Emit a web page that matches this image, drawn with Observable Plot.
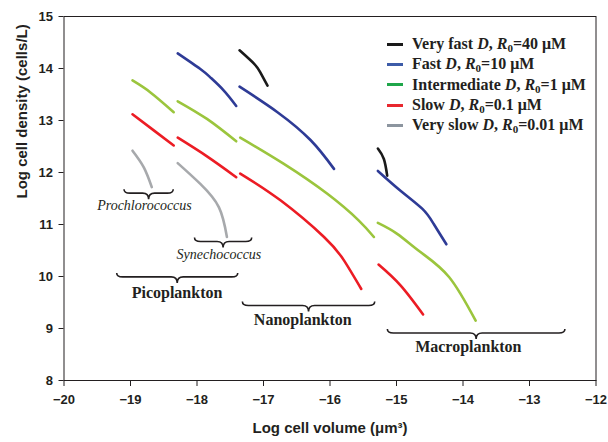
<!DOCTYPE html>
<html><head><meta charset="utf-8">
<script src="https://cdn.jsdelivr.net/npm/d3@7"></script>
<script src="https://cdn.jsdelivr.net/npm/@observablehq/plot@0.6"></script>
<style>
body{margin:0;background:#fff;}
#wrap{position:relative;width:608px;height:442px;}
.row{position:absolute;left:387px;height:20px;line-height:20px;font-family:"Liberation Serif",serif;font-weight:bold;font-size:16px;color:#231f20;white-space:nowrap;}
.row .sw{display:inline-block;width:16px;height:3px;margin-right:9px;vertical-align:middle;position:relative;top:-1px;}
.row sub{font-size:11px;vertical-align:-3px;line-height:0;}
</style></head><body><div id="wrap"></div>
<script>
// ---- data (log cell volume, log cell density) ----
const seriesNames = ["Very fast", "Fast", "Intermediate", "Slow", "Very slow"];
const legendR0 = ["40", "10", "1", "0.1", "0.01"];
const lineColors = ["#1a1a1a", "#2e3b96", "#9bc53d", "#ec1c24", "#a7a9ac"];
const legendColors = ["#1a1a1a", "#3d5ca8", "#1fa64a", "#e8282f", "#8c959f"];

const veryFast = [
  [[-17.36, 14.35], [-17.14, 14.09], [-17.05, 13.93], [-16.94, 13.67]],
  [[-15.28, 12.46], [-15.19, 12.26], [-15.14, 11.94]]
];
const fast = [
  [[-18.29, 14.29], [-17.95, 13.99], [-17.80, 13.83], [-17.60, 13.58], [-17.41, 13.28]],
  [[-17.36, 13.65], [-16.79, 13.16], [-16.29, 12.62], [-15.94, 12.07]],
  [[-15.28, 12.03], [-14.94, 11.65], [-14.61, 11.30], [-14.44, 11.01], [-14.25, 10.62]]
];
const intermediate = [
  [[-18.97, 13.77], [-18.70, 13.54], [-18.35, 13.16]],
  [[-18.29, 13.37], [-17.85, 13.03], [-17.41, 12.60]],
  [[-17.35, 12.67], [-16.70, 12.17], [-16.04, 11.59], [-15.57, 11.08], [-15.34, 10.76]],
  [[-15.28, 11.03], [-14.99, 10.82], [-14.64, 10.47], [-14.21, 9.99], [-13.81, 9.15]]
];
const slow = [
  [[-18.97, 13.12], [-18.65, 12.81], [-18.35, 12.52]],
  [[-18.29, 12.67], [-17.85, 12.31], [-17.41, 11.91]],
  [[-17.35, 11.98], [-16.74, 11.46], [-16.09, 10.76], [-15.79, 10.31], [-15.53, 9.76]],
  [[-15.27, 10.23], [-14.94, 9.83], [-14.60, 9.27]]
];
const verySlow = [
  [[-18.97, 12.42], [-18.80, 12.10], [-18.68, 11.72]],
  [[-18.29, 12.18], [-17.95, 11.78], [-17.67, 11.33], [-17.55, 10.76]]
];

const xTicks = [-20, -19, -18, -17, -16, -15, -14, -13, -12];
const yTicks = [8, 9, 10, 11, 12, 13, 14, 15];

// annotations: brace spans and labels
const annoNames = ["Prochlorococcus", "Synechococcus", "Picoplankton", "Nanoplankton", "Macroplankton"];
const annoItalic = [true, true, false, false, false];
const braceX1 = [-19.09, -18.03, -19.20, -17.31, -15.13];
const braceX2 = [-18.35, -17.17, -17.38, -15.32, -12.46];
const braceY = [11.67, 10.74, 10.06, 9.51, 8.98];
const labelX = [-18.79, -17.67, -18.30, -16.41, -13.92];
const labelY = [11.28, 10.33, 9.59, 9.06, 8.54];

// ---- build tables ----
const allSeries = [veryFast, fast, intermediate, slow, verySlow];
const rows = [];
allSeries.forEach((segs, si) => segs.forEach((seg, k) => seg.forEach(([x, y]) =>
  rows.push({series: seriesNames[si], seg: seriesNames[si] + k, x, y}))));
const braces = annoNames.map((n, i) => ({x1: braceX1[i], x2: braceX2[i], y: braceY[i]}));
const labels = annoNames.map((n, i) => ({name: n, x: labelX[i], y: labelY[i], italic: annoItalic[i]}));

function braceMark(data) {
  return (index, scales) => {
    const g = d3.create("svg:g");
    for (const b of data) {
      const x1 = scales.x(b.x1), x2 = scales.x(b.x2), y0 = scales.y(b.y), xm = (x1 + x2) / 2;
      const h = 4, t = 6, r = 6;
      const d = `M${x1},${y0} Q${x1},${y0 + h} ${x1 + r},${y0 + h} L${xm - r},${y0 + h} Q${xm},${y0 + h} ${xm},${y0 + h + t} Q${xm},${y0 + h} ${xm + r},${y0 + h} L${x2 - r},${y0 + h} Q${x2},${y0 + h} ${x2},${y0}`;
      g.append("path").attr("d", d).attr("fill", "none").attr("stroke", "#231f20").attr("stroke-width", 1.6);
    }
    return g.node();
  };
}

const fmt = d => d < 0 ? "\u2212" + Math.abs(d) : String(d);

const plot = Plot.plot({
  width: 608, height: 442,
  marginLeft: 63.5, marginRight: 12.5, marginTop: 16, marginBottom: 62,
  style: {fontFamily: "'Liberation Sans', Arial, sans-serif", fontWeight: "bold", fontSize: "13px", color: "#231f20", background: "#fff"},
  x: {domain: [-20, -12]},
  y: {domain: [8, 15]},
  color: {domain: seriesNames, range: lineColors},
  marks: [
    Plot.frame({stroke: "#231f20", strokeWidth: 1}),
    Plot.axisX({ticks: xTicks, tickFormat: fmt, tickSize: 6, tickPadding: 8, label: null, fontSize: 13}),
    Plot.axisY({ticks: yTicks, tickFormat: fmt, tickSize: 5, tickPadding: 6, label: null, fontSize: 13}),
    Plot.text(["Log cell volume (\u03bcm\u00b3)"], {frameAnchor: "bottom", dy: 52, text: d => d, fontSize: 15}),
    Plot.text(["Log cell density (cells/L)"], {frameAnchor: "left", dx: -42, rotate: -90, text: d => d, fontSize: 15}),
    Plot.line(rows, {x: "x", y: "y", z: "seg", stroke: "series", strokeWidth: 2.6, curve: "natural"}),
    braceMark(braces),
    Plot.text(labels.filter(d => d.italic), {x: "x", y: "y", text: "name", lineAnchor: "bottom",
      fontFamily: "'Liberation Serif', serif", fontWeight: "normal", fontStyle: "italic", fontSize: 14, fill: "#231f20"}),
    Plot.text(labels.filter(d => !d.italic), {x: "x", y: "y", text: "name", lineAnchor: "bottom",
      fontFamily: "'Liberation Serif', serif", fontWeight: "bold", fontSize: 16, fill: "#231f20"})
  ]
});
const wrap = document.getElementById("wrap");
wrap.appendChild(plot);

// legend
const rowY = [44, 64, 84.5, 105, 125];
seriesNames.forEach((n, i) => {
  const div = document.createElement("div");
  div.className = "row";
  div.style.top = (rowY[i] - 10) + "px";
  div.innerHTML = `<span class="sw" style="background:${legendColors[i]}"></span><span>${n} <i>D</i>, <i>R</i><sub>0</sub>=${legendR0[i]}&nbsp;\u03bcM</span>`;
  wrap.appendChild(div);
});
</script></body></html>
